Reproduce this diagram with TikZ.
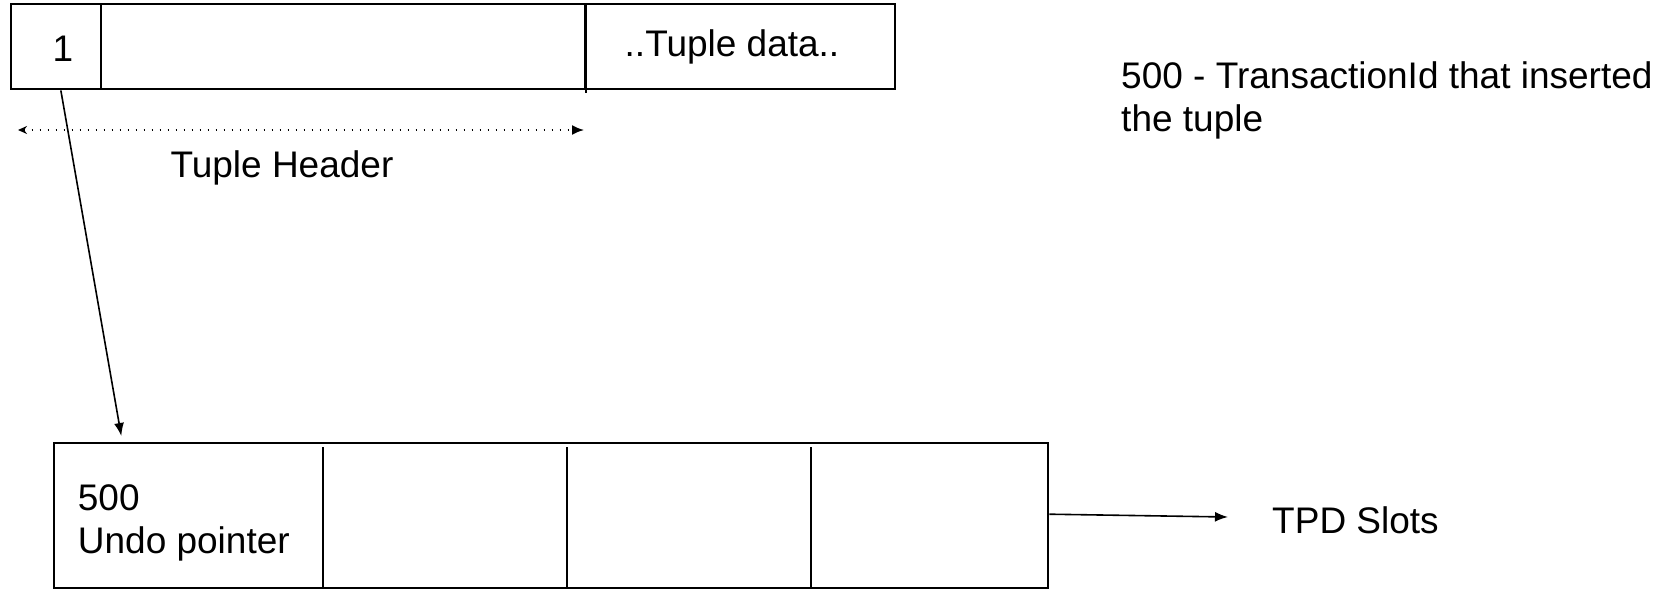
\documentclass[tikz,border=0pt]{standalone}
\usepackage{fontspec}
\setmainfont{Liberation Sans}
\usetikzlibrary{arrows.meta}
\begin{document}
\begin{tikzpicture}[x=1pt,y=-1pt,
  cellbox/.style={draw, line width=2pt, inner sep=0pt},
  label/.style={inner sep=0pt, font=\fontsize{37}{43}\selectfont},
  link/.style={line width=1.6pt, -{Latex[length=13pt,width=10pt]}},
  span/.style={line width=1.8pt, dash pattern=on 1.8pt off 6.2pt,
    {Stealth[length=9pt,width=8pt]}-{Latex[length=12pt,width=10pt]}},
  divider/.style={line width=2pt}]
\useasboundingbox (0,0) rectangle (1669,589);

% tuple layout: flag cell, header cell, data cell
\node[cellbox, minimum width=90.5pt, minimum height=85.1pt] (flag) at (55.85,46.85) {};
\node[cellbox, minimum width=484.3pt, minimum height=85.1pt] (hdr) at (343.25,46.85) {};
\node[cellbox, minimum width=309.8pt, minimum height=85.1pt] (data) at (740.3,46.85) {};
\draw[divider] (hdr.north east) -- ++(0,89.5);
\node[label] (one) at (62.8,49) {1};
\node[label] (dtxt) at (732,47) {..Tuple data..};

% extent of the tuple header
\coordinate (hl) at (18,130);
\coordinate (hr) at (584,130);
\draw[span] (hl) -- (hr);
\node[label] (hname) at (282,168) {Tuple Header};

% transaction slot array
\node[cellbox, minimum width=994.1pt, minimum height=144.8pt] (slots) at (551.35,515.2) {};
\foreach \xx in {322.5,567.3,811.1}
  \draw[divider] (\xx,447) -- (\xx,587.6);
\node[label, anchor=west, align=left] (s1) at (77.7,522.6) {500\\Undo pointer};

% pointer from the tuple into the slot array
\coordinate (tip) at (121.3,436);
\draw[link] ([xshift=5pt]flag.south) -- (tip);

% further slots
\coordinate (more) at (1228,517);
\draw[link] ([yshift=1pt]slots.east) -- (more);
\node[label, anchor=west] (tpd) at (1272,520.5) {TPD Slots};

% note
\node[label, anchor=west, align=left] (note) at (1121,100) {500 - TransactionId that inserted\\the tuple};
\end{tikzpicture}
\end{document}
